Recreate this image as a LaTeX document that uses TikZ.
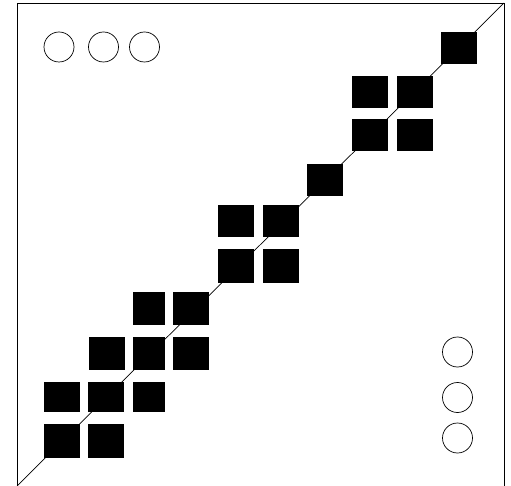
\documentclass[tikz,border=0pt]{standalone}
\usepackage{tikz}
\tikzset{
  frm/.style  = {draw, line width=0.8pt},
  cell/.style = {fill=black, inner sep=0pt, minimum width=36pt, minimum height=32pt},
  thin/.style = {cell, minimum width=32pt},
  dot/.style  = {draw, circle, line width=0.7pt, inner sep=0pt, minimum size=30pt}
}

\begin{document}
\begin{tikzpicture}[x=1pt, y=-1pt]
\useasboundingbox (0,0) rectangle (511,486);
% ---------------- frame and diagonal ----------------
\coordinate (bl) at (17,486);
\coordinate (tl) at (17,3);
\coordinate (tr) at (504,3);
\coordinate (br) at (504,486);
\draw[frm] (bl) -- (tl) -- (tr) -- (br);
\draw[line width=0.7pt] (bl) -- (tr);

% ---------------- blocks along the diagonal ----------------
\node[cell] (b1)  at (459,48) {};
\node[cell] (b2a) at (370,92) {};
\node[cell] (b2b) at (415,92) {};
\node[cell] (b3a) at (370,135) {};
\node[cell] (b3b) at (415,135) {};
\node[cell] (b4)  at (325,180) {};
\node[cell] (b5a) at (236,221) {};
\node[cell] (b5b) at (281,221) {};
\node[cell, minimum height=34pt] (b6a) at (236,266) {};
\node[cell, minimum height=34pt] (b6b) at (281,266) {};
\node[thin, minimum height=33pt] (b7a) at (149,308.5) {};
\node[cell, minimum height=33pt] (b7b) at (191,308.5) {};
\node[cell, minimum height=33pt] (b8a) at (106.5,353.5) {};
\node[thin, minimum height=33pt] (b8b) at (149,353.5) {};
\node[cell, minimum height=33pt] (b8c) at (191,353.5) {};
\node[cell, minimum height=30pt] (b9a) at (62,397) {};
\node[cell, minimum height=30pt] (b9b) at (106,397) {};
\node[thin, minimum height=30pt] (b9c) at (149,397) {};
\node[cell, minimum height=34pt] (b10a) at (62,441) {};
\node[cell, minimum height=34pt] (b10b) at (106,441) {};

% ---------------- ellipsis dots ----------------
\node[dot] (h1) at (59,47) {};
\node[dot] (h2) at (103.5,47) {};
\node[dot] (h3) at (144.5,47) {};
\node[dot] (v1) at (457.5,352) {};
\node[dot] (v2) at (457.5,397.5) {};
\node[dot] (v3) at (457.5,438) {};
\end{tikzpicture}
\end{document}
